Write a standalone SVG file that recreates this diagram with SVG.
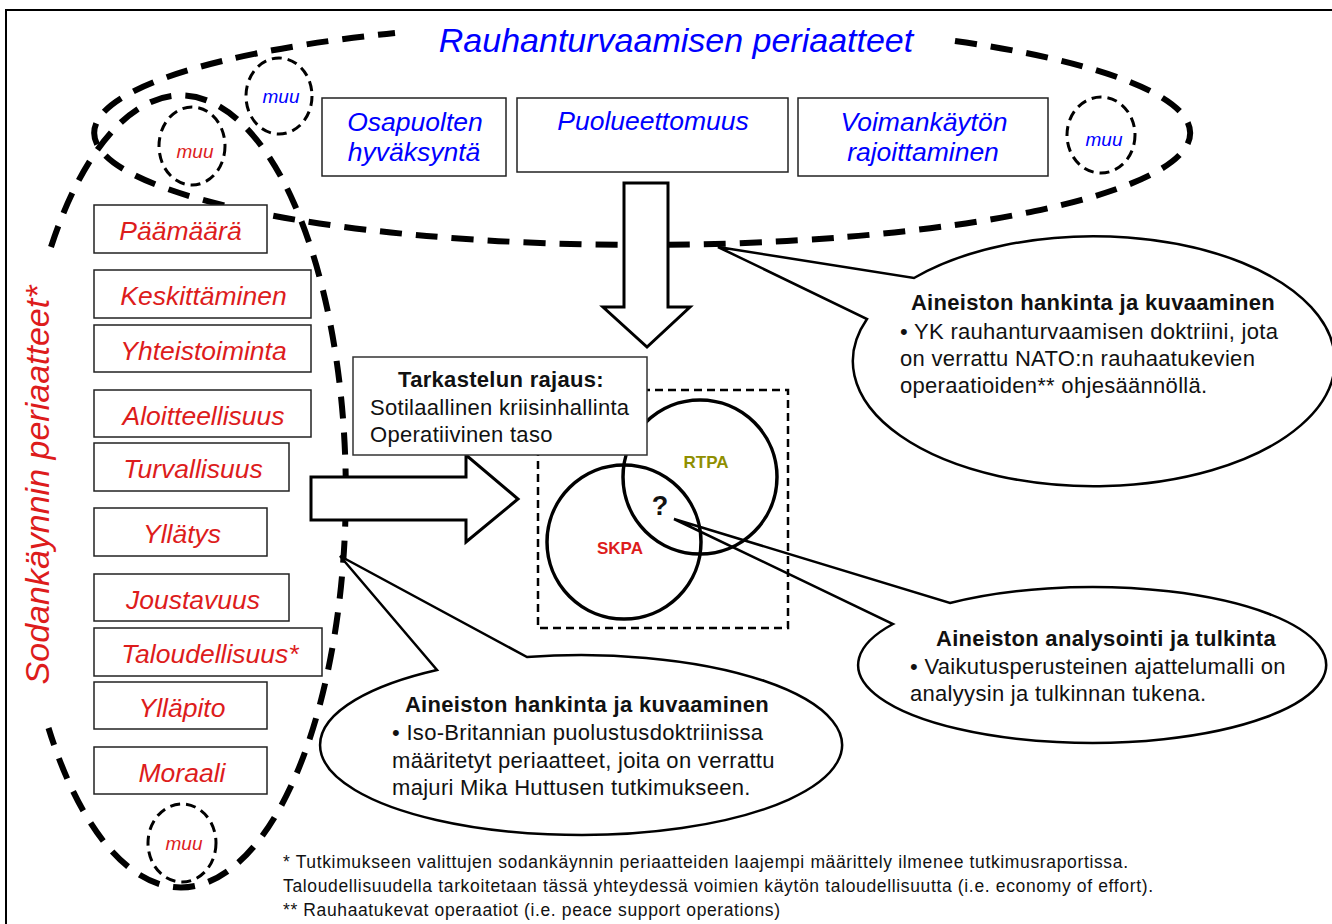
<svg xmlns="http://www.w3.org/2000/svg" width="1332" height="924" viewBox="0 0 1332 924">
<style>
.bigdash{fill:none;stroke:#000;stroke-width:6;stroke-dasharray:22 14}
.muuc{fill:none;stroke:#000;stroke-width:3;stroke-dasharray:10 6}
.box{fill:#fff;stroke:#222;stroke-width:1.5}
.bt{font-family:"Liberation Sans",Arial,sans-serif;font-style:italic;font-size:26.5px;fill:#0000ff;text-anchor:middle}
.rt{font-family:"Liberation Sans",Arial,sans-serif;font-style:italic;font-size:26.5px;fill:#dd1c1c;text-anchor:middle}
.muu{font-family:"Liberation Sans",Arial,sans-serif;font-style:italic;font-size:19px;text-anchor:middle}
.arrow{fill:#fff;stroke:#000;stroke-width:3}
.callout{fill:#fff;stroke:#000;stroke-width:2.5;stroke-linejoin:miter}
.ct{font-family:"Liberation Sans",Arial,sans-serif;font-size:22px;letter-spacing:0.3px;fill:#111}
.cb{font-family:"Liberation Sans",Arial,sans-serif;font-size:22px;letter-spacing:0.3px;font-weight:bold;fill:#111;text-anchor:middle}
.fn{font-family:"Liberation Sans",Arial,sans-serif;font-size:17.5px;fill:#111}
</style>
<path d="M6,924 V10 H1332" fill="none" stroke="#000" stroke-width="2"/>

<g id="rauhanturvaaminen-group">
  <path class="bigdash" d="M955,41 A548 112 0 1 1 395,33"/>
  <text x="676" y="52" class="bt" style="font-size:34px">Rauhanturvaamisen periaatteet</text>
</g>
<g id="sodankaynti-group">
  <path class="bigdash" d="M51,247 A165 396 0 1 1 48.5,728"/>
  <text transform="translate(49,485) rotate(-90)" class="rt" style="font-size:34px">Sodankäynnin periaatteet*</text>
</g>

<g id="muu-1"><ellipse class="muuc" cx="279" cy="96" rx="33" ry="38"/><text x="281" y="103" class="muu" fill="#0000ff">muu</text></g>
<g id="muu-2"><ellipse class="muuc" cx="192" cy="146" rx="33" ry="39"/><text x="195" y="158" class="muu" fill="#dd1c1c">muu</text></g>
<g id="muu-3"><ellipse class="muuc" cx="1101" cy="135" rx="34" ry="38"/><text x="1104" y="146" class="muu" fill="#0000ff">muu</text></g>
<g id="muu-4"><ellipse class="muuc" cx="182" cy="843" rx="34" ry="39"/><text x="184" y="850" class="muu" fill="#dd1c1c">muu</text></g>

<g id="osapuolten"><rect class="box" x="322" y="98" width="184" height="78"/><text x="415" y="131" class="bt">Osapuolten</text><text x="414" y="161" class="bt">hyväksyntä</text></g>
<g id="puolueettomuus"><rect class="box" x="517" y="98" width="271" height="74"/><text x="653" y="130" class="bt">Puolueettomuus</text></g>
<g id="voimankaytto"><rect class="box" x="798" y="98" width="250" height="78"/><text x="924" y="131" class="bt">Voimankäytön</text><text x="923" y="161" class="bt">rajoittaminen</text></g>

<g id="paamaara"><rect class="box" x="94" y="205" width="173" height="48"/><text x="180.5" y="240" class="rt">Päämäärä</text></g>
<g id="keskittaminen"><rect class="box" x="94" y="270" width="217" height="48"/><text x="203.5" y="305" class="rt">Keskittäminen</text></g>
<g id="yhteistoiminta"><rect class="box" x="94" y="325" width="217" height="47"/><text x="203.5" y="360" class="rt">Yhteistoiminta</text></g>
<g id="aloitteellisuus"><rect class="box" x="94" y="390" width="217" height="47"/><text x="203.5" y="425" class="rt">Aloitteellisuus</text></g>
<g id="turvallisuus"><rect class="box" x="94" y="443" width="195" height="48"/><text x="193" y="478" class="rt">Turvallisuus</text></g>
<g id="yllatys"><rect class="box" x="94" y="508" width="173" height="48"/><text x="182" y="543" class="rt">Yllätys</text></g>
<g id="joustavuus"><rect class="box" x="94" y="574" width="195" height="47"/><text x="193" y="609" class="rt">Joustavuus</text></g>
<g id="taloudellisuus"><rect class="box" x="94" y="628" width="228" height="48"/><text x="210" y="663" class="rt">Taloudellisuus*</text></g>
<g id="yllapito"><rect class="box" x="94" y="682" width="173" height="47"/><text x="182" y="717" class="rt">Ylläpito</text></g>
<g id="moraali"><rect class="box" x="94" y="747" width="173" height="47"/><text x="182" y="782" class="rt">Moraali</text></g>

<g id="connectors">
  <path class="arrow" d="M624,183 H668 V307 H690 L647,347 L603,307 H624 Z"/>
  <path class="arrow" d="M311,477 H466 V455 L518,499 L466,542 V520 H311 Z"/>
</g>

<g id="callout-analysointi">
  <path class="callout" d="M950,603 A234 78 0 1 1 893,624 L674,519 Z"/>
  <text x="1106" y="646" class="cb">Aineiston analysointi ja tulkinta</text>
  <text x="910" y="674" class="ct">• Vaikutusperusteinen ajattelumalli on</text>
  <text x="910" y="701" class="ct">analyysin ja tulkinnan tukena.</text>
</g>

<g id="scope">
  <rect x="538" y="390" width="250" height="238" fill="none" stroke="#000" stroke-width="2.5" stroke-dasharray="8 5"/>
  <circle cx="700" cy="477" r="77" fill="none" stroke="#000" stroke-width="3.5"/>
  <circle cx="624" cy="542" r="77" fill="none" stroke="#000" stroke-width="3.5"/>
  <text x="706" y="468" font-family="Liberation Sans, Arial, sans-serif" font-weight="bold" font-size="17" fill="#8f8f00" text-anchor="middle">RTPA</text>
  <text x="620" y="554" font-family="Liberation Sans, Arial, sans-serif" font-weight="bold" font-size="17" fill="#dd1c1c" text-anchor="middle">SKPA</text>
  <text x="660" y="515" font-family="Liberation Sans, Arial, sans-serif" font-weight="bold" font-size="27" fill="#111" text-anchor="middle">?</text>
</g>

<g id="tarkastelun-rajaus">
  <rect x="353" y="357" width="294" height="98" fill="#fff" stroke="#333" stroke-width="1.5"/>
  <text x="501" y="387" class="cb">Tarkastelun rajaus:</text>
  <text x="370" y="415" class="ct">Sotilaallinen kriisinhallinta</text>
  <text x="370" y="442" class="ct">Operatiivinen taso</text>
</g>

<g id="callout-yk">
  <path class="callout" d="M914,278 A241 125 0 1 1 867,319 L718,247 Z"/>
  <text x="1093" y="310" class="cb">Aineiston hankinta ja kuvaaminen</text>
  <text x="900" y="339" class="ct">• YK rauhanturvaamisen doktriini, jota</text>
  <text x="900" y="366" class="ct">on verrattu NATO:n rauhaatukevien</text>
  <text x="900" y="393" class="ct">operaatioiden** ohjesäännöllä.</text>
</g>

<g id="callout-iso-britannia">
  <path class="callout" d="M527,657 A261 90 0 1 1 437,670 L340,556 Z"/>
  <text x="587" y="712" class="cb">Aineiston hankinta ja kuvaaminen</text>
  <text x="392" y="740" class="ct">• Iso-Britannian puolustusdoktriinissa</text>
  <text x="392" y="768" class="ct">määritetyt periaatteet, joita on verrattu</text>
  <text x="392" y="795" class="ct">majuri Mika Huttusen tutkimukseen.</text>
</g>

<g id="footnotes">
  <text x="283" y="868" class="fn" textLength="845" lengthAdjust="spacing">* Tutkimukseen valittujen sodankäynnin periaatteiden laajempi määrittely ilmenee tutkimusraportissa.</text>
  <text x="283" y="892" class="fn" textLength="870" lengthAdjust="spacing">Taloudellisuudella tarkoitetaan tässä yhteydessä voimien käytön taloudellisuutta (i.e. economy of effort).</text>
  <text x="283" y="916" class="fn" textLength="497" lengthAdjust="spacing">** Rauhaatukevat operaatiot (i.e. peace support operations)</text>
</g>
</svg>
